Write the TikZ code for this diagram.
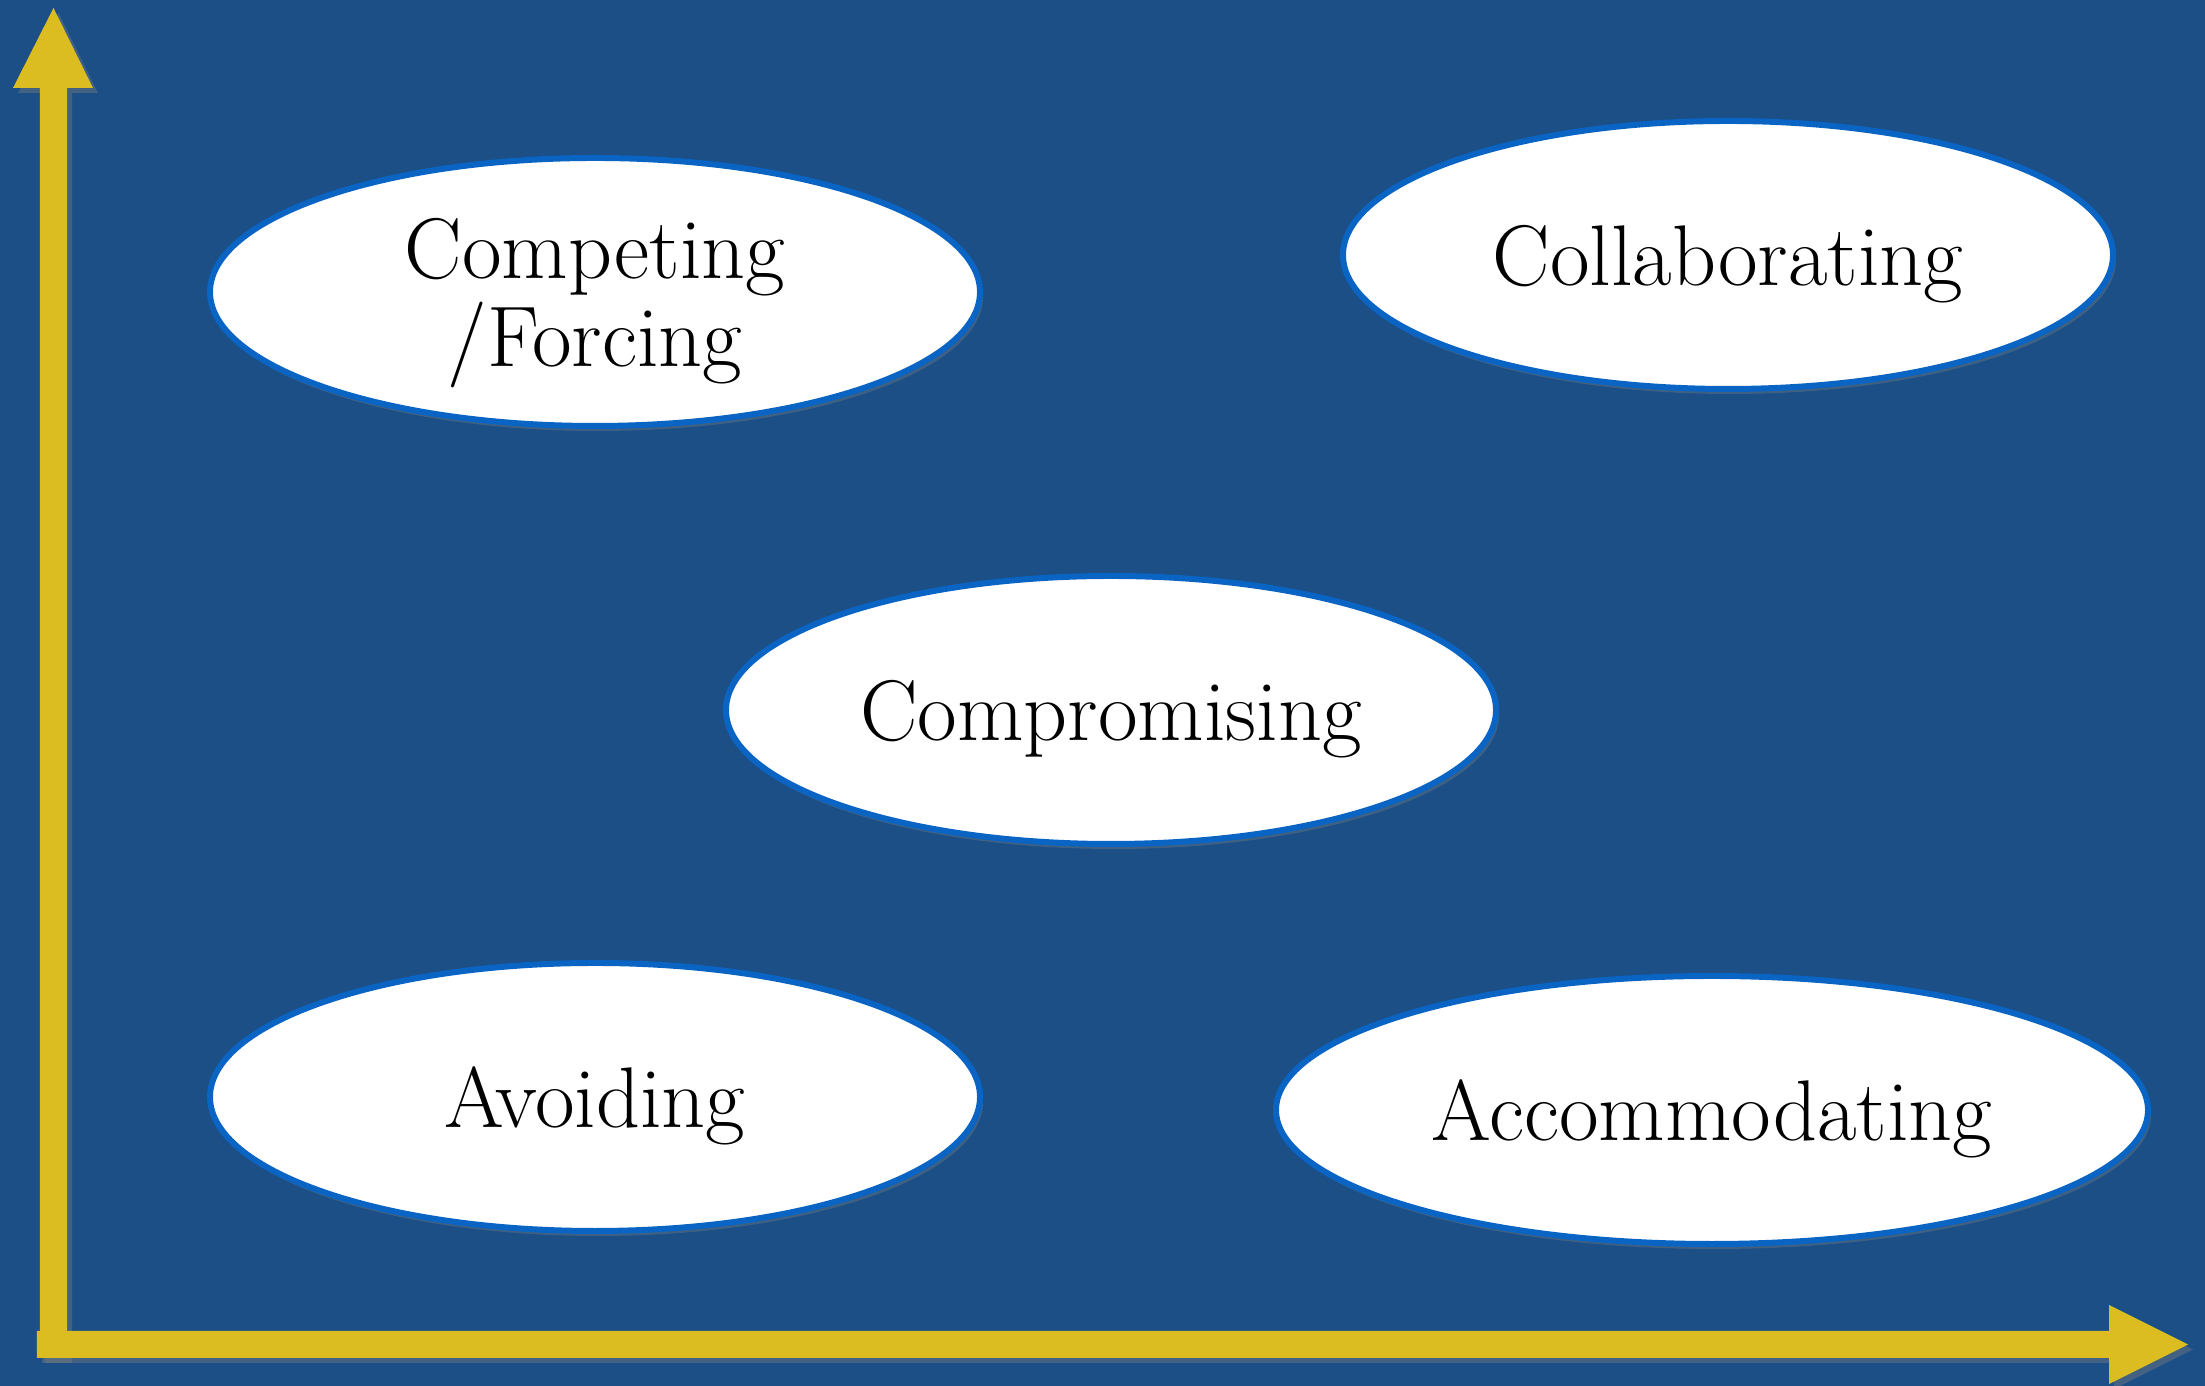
\documentclass[tikz,border=0pt]{standalone}
\usetikzlibrary{shapes.geometric,shadows}
\definecolor{bgblue}{RGB}{27,79,134}
\definecolor{axisyellow}{RGB}{219,189,34}
\definecolor{rimblue}{RGB}{10,100,195}
\tikzset{
	mode/.style={ellipse,draw=rimblue,line width=1.7pt,fill=white,
		minimum width=7.7cm,minimum height=2.68cm,align=center,text depth=0pt,
		font=\fontsize{24.5}{25}\selectfont,
		drop shadow={shadow xshift=0.03cm,shadow yshift=-0.05cm,opacity=0.35}},
	axis/.style={fill=axisyellow,
		drop shadow={shadow xshift=0.05cm,shadow yshift=-0.05cm,opacity=0.4}}
}
\begin{document}
\begin{tikzpicture}
	\useasboundingbox (0,0) rectangle (22.05,13.86);
	\fill[bgblue] (0,0) rectangle (22.05,13.86);
	% axes
	\fill[axis] (.40,.28) -- (.40,12.98) -- (.13,12.98) -- (.535,13.78) -- (.93,12.98) -- (.67,12.98) -- (.67,.28) -- cycle;
	\fill[axis] (.37,.28) -- (21.09,.28) -- (21.09,.02) -- (21.88,.415) -- (21.09,.81) -- (21.09,.55) -- (.37,.55) -- cycle;
	% the five modes
	\node[mode] (competing) at (5.95,10.94) {Competing\\/Forcing};
	\node[mode] (collaborating) at (17.28,11.31) {Collaborating};
	\node[mode] (compromising) at (11.11,6.76) {Compromising};
	\node[mode] (avoiding) at (5.95,2.89) {Avoiding};
	\node[mode,minimum width=8.72cm] (accommodating) at (17.12,2.76) {Accommodating};
\end{tikzpicture}
\end{document}
